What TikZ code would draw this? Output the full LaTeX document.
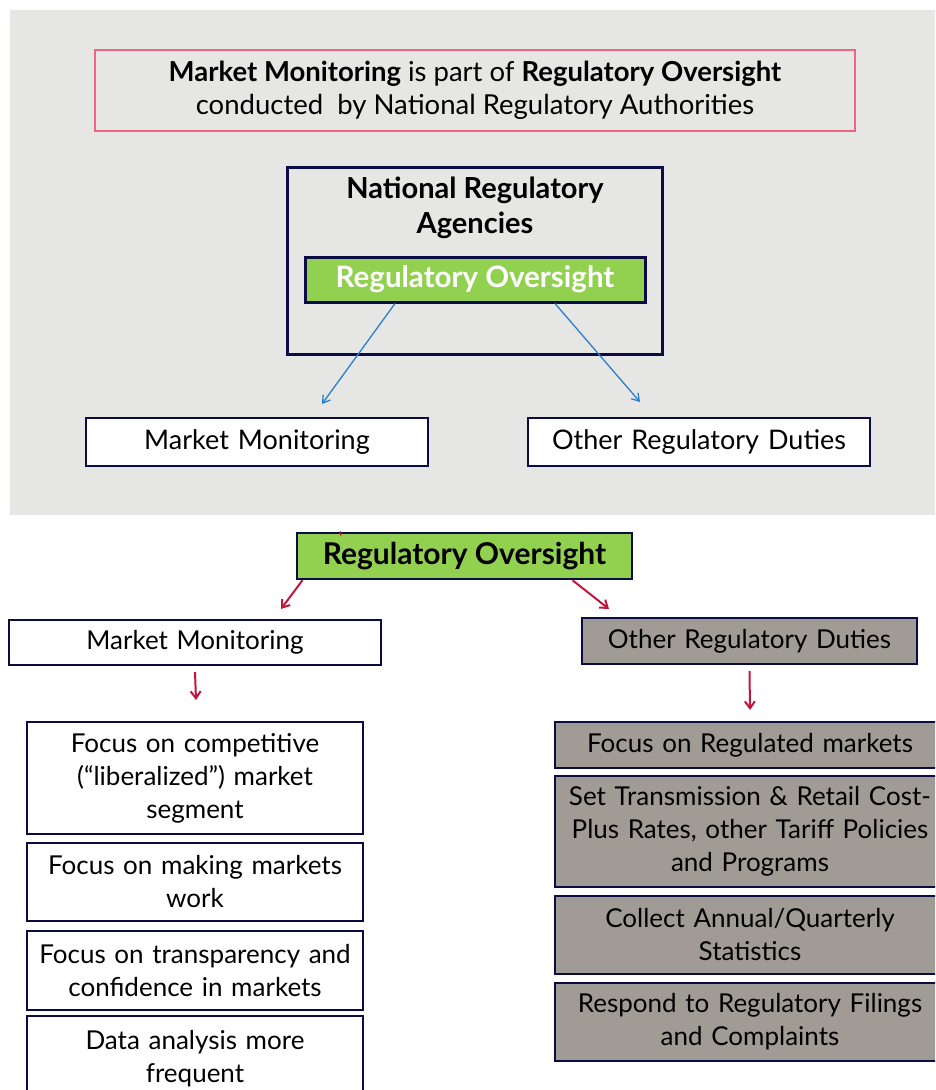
\documentclass[tikz,border=0pt]{standalone}
\usepackage{fontspec}
\setmainfont{Lato}
\usetikzlibrary{arrows.meta,calc}
\definecolor{bgray}{HTML}{E6E6E4}
\definecolor{navy}{HTML}{0C0C44}
\definecolor{pinkb}{HTML}{EE6680}
\definecolor{lgreen}{HTML}{92D050}
\definecolor{dgray}{HTML}{A09C95}
\definecolor{barrow}{HTML}{2A7FCC}
\definecolor{rarrow}{HTML}{C0163E}
\begin{document}
\begin{tikzpicture}[x=1pt,y=-1pt,
  box/.style={draw=navy, line width=2.6pt, fill=white, inner sep=0pt, align=center, text width=#1},
  box/.default=320pt,
  graybox/.style={box=#1, fill=dgray},
  graybox/.default=370pt,
  greenbox/.style={draw=navy, line width=3pt, fill=lgreen, inner sep=0pt, align=center},
  txt/.style={font=\fontsize{26}{33}\selectfont},
  bluearr/.style={draw=barrow, line width=1.3pt, -{Straight Barb[length=7pt,width=9pt]}},
  redarr/.style={draw=rarrow, line width=2pt, -{Straight Barb[length=7pt,width=10pt]}}
]
\clip (0,0) rectangle (935,1090);
\fill[white] (0,0) rectangle (935,1090);
\fill[bgray] (10,10) rectangle (945,515);

% top panel
\node[draw=pinkb, line width=1.2pt, fill=bgray, minimum width=760pt, minimum height=81pt, inner sep=0pt, align=center,
      font=\fontsize{27.5}{33}\selectfont] (intro) at (475,90.5)
  {\textbf{Market Monitoring} is part of \textbf{Regulatory Oversight}\\conducted~ by National Regulatory Authorities};
\node[draw=navy, line width=3pt, minimum width=375pt, minimum height=187pt, inner sep=0pt] (nra) at (474.5,260.5) {};
\node[font=\fontsize{29}{35}\bfseries\selectfont, align=center] (nrat) at (475,208) {National Regulatory\\Agencies};
\node[greenbox, minimum width=340pt, minimum height=45pt, text=white, font=\fontsize{29.5}{30}\bfseries\selectfont] (ro1) at (475,279.5) {Regulatory Oversight};
\node[box, text width=342pt, minimum height=48pt, font=\fontsize{27}{33}\selectfont] (mm1) at (257,442) {Market Monitoring};
\node[box, text width=342pt, minimum height=48pt, font=\fontsize{27}{33}\selectfont] (ord1) at (699,442) {Other Regulatory Duties};
\coordinate (b1e) at (322,404);
\coordinate (b2e) at (640,402);
\draw[bluearr] ($(ro1.south)+(-80,0)$) -- (b1e);
\draw[bluearr] ($(ro1.south)+(80,0)$) -- (b2e);

% bottom panel
\node[greenbox, line width=2.4pt, minimum width=335pt, minimum height=46pt, font=\fontsize{30}{30}\bfseries\selectfont] (ro2) at (464.5,556) {Regulatory Oversight};
\draw[rarrow, line width=1pt] (340,531) -- (341,536);
\node[box, txt, text width=372pt, minimum height=45pt] (mm2) at (195,642.5) {Market Monitoring};
\node[graybox, txt, text width=335pt, minimum height=46pt] (ord2) at (749.5,641) {Other Regulatory Duties};
\coordinate (r1e) at (281,609);
\coordinate (r2e) at (609,609);
\coordinate (r3e) at (196,700);
\coordinate (r4e) at (750,710);
\draw[redarr] ($(ro2.south)+(-162,0)$) -- (r1e);
\draw[redarr] ($(ro2.south)+(108,0)$) -- (r2e);
\draw[redarr] (mm2.south |- 0,672) -- (r3e);
\draw[redarr] (ord2.south |- 0,671) -- (r4e);

\node[box, txt, text width=336pt, minimum height=112pt] (l1) at (195,778) {Focus on competitive\\(“liberalized”) market\\segment};
\node[box, txt, text width=336pt, minimum height=78pt] (l2) at (195,882) {Focus on making markets\\work};
\node[box, txt, text width=336pt, minimum height=79pt] (l3) at (195,970.5) {Focus on transparency and\\confidence in markets};
\node[box, txt, text width=336pt, minimum height=86pt] (l4) at (195,1059) {Data analysis more\\frequent};

\node[graybox, txt, text width=390pt, minimum height=46pt] (g1) at (750,745) {Focus on Regulated markets};
\node[graybox, txt, text width=390pt, minimum height=111pt] (g2) at (750,831.5) {Set Transmission \& Retail Cost-\\Plus Rates, other Tariff Policies\\and Programs};
\node[graybox, txt, text width=390pt, minimum height=78pt] (g3) at (750,935) {Collect Annual/Quarterly\\Statistics};
\node[graybox, txt, text width=390pt, minimum height=78pt] (g4) at (750,1022) {Respond to Regulatory Filings\\and Complaints};
\end{tikzpicture}
\end{document}
